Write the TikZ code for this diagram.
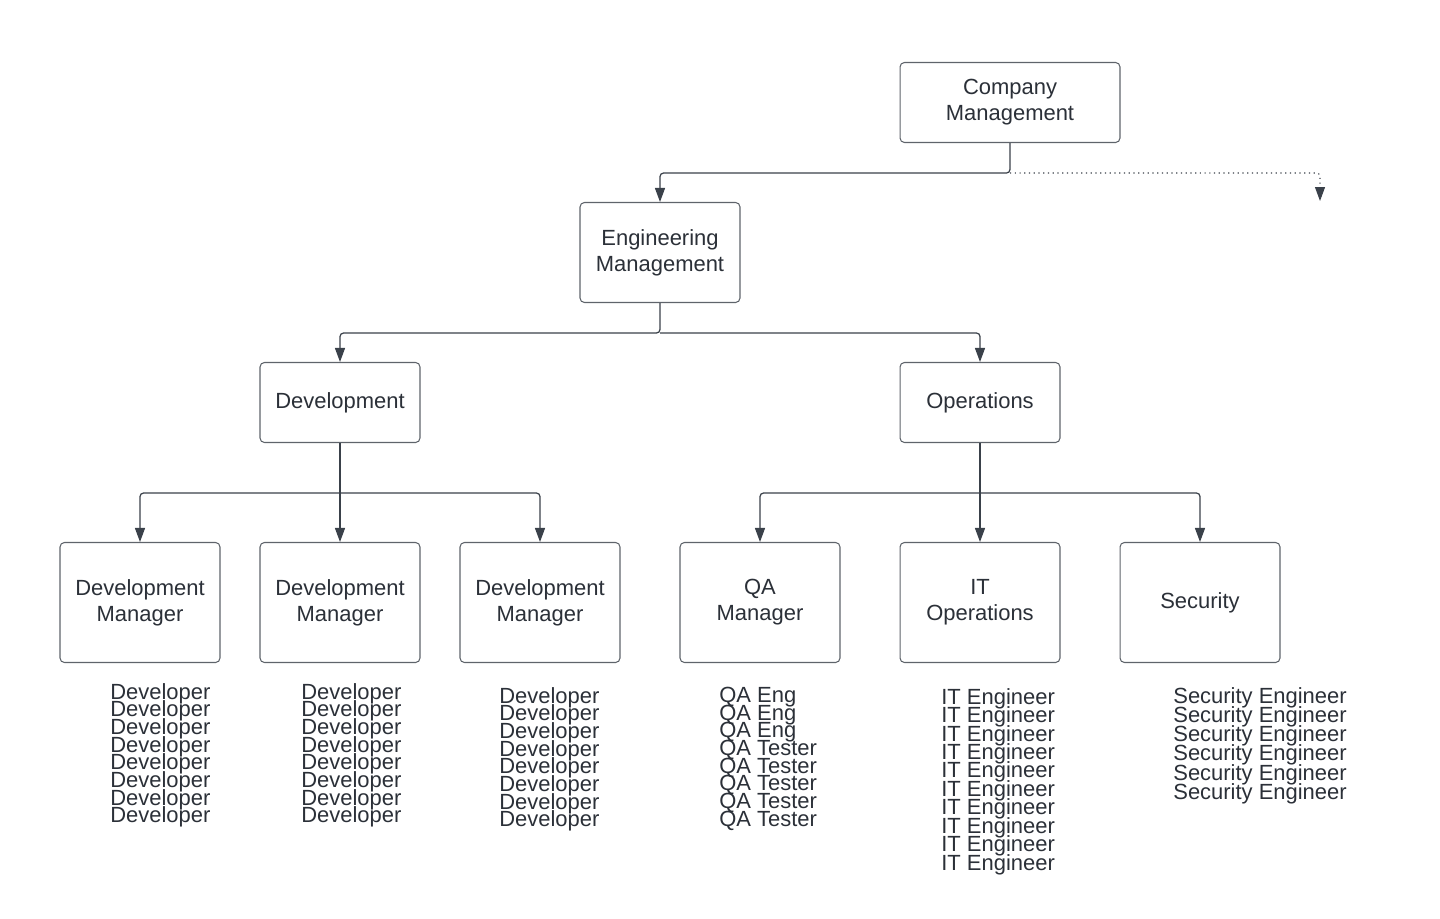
\documentclass[tikz,border=0pt]{standalone}
\usepackage{fontspec}
\setmainfont{Liberation Sans}
\usetikzlibrary{arrows.meta}

\definecolor{linegray}{HTML}{3A414A}
\definecolor{boxgray}{HTML}{5F646B}
\definecolor{textgray}{HTML}{2B3038}

\tikzset{
  orgbox/.style={draw=boxgray, line width=0.6pt, rounded corners=2.5pt, fill=white,
    text=textgray, align=center, minimum width=3.2cm, minimum height=1.6cm,
    font={\fontsize{12.5}{14.74}\selectfont}},
  conn/.style={draw=linegray, line width=0.7pt, rounded corners=2pt,
    -{Triangle[width=2mm,length=2.8mm]}},
  staff/.style={anchor=north west, inner sep=0pt, align=left, text=textgray},
}

\begin{document}
\begin{tikzpicture}[x=0.02cm, y=-0.02cm]
        \useasboundingbox (0,0) rectangle (1440,919);
        % boxes
        \node[orgbox, minimum width=4.4cm] (cm) at (1010,102.5) {Company\\Management};
        \node[orgbox, minimum height=2cm] (em) at (660,252.5) {Engineering\\Management};
        \node[orgbox] (dev) at (340,402.5) {Development};
        \node[orgbox] (ops) at (980,402.5) {Operations};
        \node[orgbox, minimum height=2.4cm] (dm1) at (140,602.5) {Development\\Manager};
        \node[orgbox, minimum height=2.4cm] (dm2) at (340,602.5) {Development\\Manager};
        \node[orgbox, minimum height=2.4cm] (dm3) at (540,602.5) {Development\\Manager};
        \node[orgbox, minimum height=2.4cm] (qa) at (760,602.5) {QA\\Manager};
        \node[orgbox, minimum height=2.4cm] (it) at (980,602.5) {IT\\Operations};
        \node[orgbox, minimum height=2.4cm] (sec) at (1200,602.5) {Security};
        \coordinate (other) at (1320,201);
        % connectors
        \draw[conn] (cm.south) -- ++(0,30) -| (em.north);
        \draw[conn, dotted, line width=0.6pt] (cm.south) ++(0,30) -| (other);
        \draw[conn] (em.south) -- ++(0,30) -| (dev.north);
        \draw[conn] (em.south) ++(0,30) -| (ops.north);
        \draw[conn] (dev.south) -- (dm2.north);
        \draw[conn] (dev.south) ++(0,50) -| (dm1.north);
        \draw[conn] (dev.south) ++(0,50) -| (dm3.north);
        \draw[conn] (ops.south) -- (it.north);
        \draw[conn] (ops.south) ++(0,50) -| (qa.north);
        \draw[conn] (ops.south) ++(0,50) -| (sec.north);
        % staff lists
        \node[staff, font={\fontsize{12.5}{10.03}\selectfont\lineskiplimit=-100pt\lineskip=0pt}] (devs1) at (110,683)
          {Developer\\Developer\\Developer\\Developer\\Developer\\Developer\\Developer\\Developer};
        \node[staff, font={\fontsize{12.5}{10.03}\selectfont\lineskiplimit=-100pt\lineskip=0pt}] (devs2) at (301,683)
          {Developer\\Developer\\Developer\\Developer\\Developer\\Developer\\Developer\\Developer};
        \node[staff, font={\fontsize{12.5}{10.03}\selectfont\lineskiplimit=-100pt\lineskip=0pt}] (devs3) at (499,687)
          {Developer\\Developer\\Developer\\Developer\\Developer\\Developer\\Developer\\Developer};
        \node[staff, font={\fontsize{12.5}{10.03}\selectfont\lineskiplimit=-100pt\lineskip=0pt}] (qas) at (719,687)
          {QA Eng\\QA Eng\\QA Eng\\QA Tester\\QA Tester\\QA Tester\\QA Tester\\QA Tester};
        \node[staff, font={\fontsize{12.5}{10.49}\selectfont\lineskiplimit=-100pt\lineskip=0pt}] (its) at (941,688)
          {IT Engineer\\IT Engineer\\IT Engineer\\IT Engineer\\IT Engineer\\IT Engineer\\IT Engineer\\IT Engineer\\IT Engineer\\IT Engineer};
        \node[staff, font={\fontsize{12.5}{10.94}\selectfont\lineskiplimit=-100pt\lineskip=0pt}] (secs) at (1173,687)
          {Security Engineer\\Security Engineer\\Security Engineer\\Security Engineer\\Security Engineer\\Security Engineer};
\end{tikzpicture}
\end{document}
